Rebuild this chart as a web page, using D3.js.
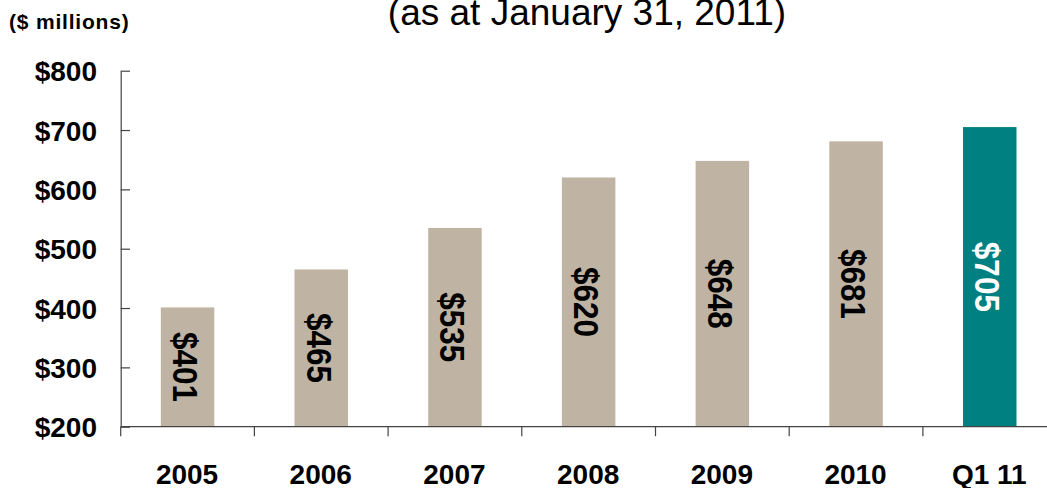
<!DOCTYPE html>
<html>
<head>
<meta charset="utf-8">
<script src="https://cdn.jsdelivr.net/npm/d3@7"></script>
<style>
  html, body { margin: 0; padding: 0; background: #fff; }
  svg { display: block; font-family: "Liberation Sans", Arial, sans-serif; }
</style>
</head>
<body>
<svg id="chart" width="1047" height="488"></svg>
<script>
// Assets under management by period ($ millions)
const categories = ["2005", "2006", "2007", "2008", "2009", "2010", "Q1 11"];
const values = [401, 465, 535, 620, 648, 681, 705];
const valueLabels = ["$401", "$465", "$535", "$620", "$648", "$681", "$705"];
const yTicks = [200, 300, 400, 500, 600, 700, 800];
const yTickLabels = ["$200", "$300", "$400", "$500", "$600", "$700", "$800"];

const svg = d3.select("#chart");
const W = 1047;

const axisColor = "#444";
const barColor = "#BFB4A4";
const highlightColor = "#008080";

// category slots: tick marks sit on the slot boundaries
const x = d3.scaleBand().domain(categories).range([120.7, 1056.6]).padding(0);
const y = d3.scaleLinear().domain([200, 800]).range([426.7, 70.7]);
const barFrac = 0.4;

// title and unit note
svg.append("text")
  .attr("x", 587).attr("y", 25)
  .attr("text-anchor", "middle")
  .attr("font-size", 37)
  .attr("fill", "#000")
  .text("(as at January 31, 2011)");

svg.append("text")
  .attr("x", 9).attr("y", 28.5)
  .attr("font-size", 21)
  .attr("font-weight", "bold")
  .attr("letter-spacing", 0.8)
  .attr("fill", "#000")
  .text("($ millions)");

// bars
svg.selectAll("rect.bar")
  .data(values)
  .join("rect")
  .attr("class", "bar")
  .attr("x", (d, i) => x(categories[i]) + x.bandwidth() * (1 - barFrac) / 2)
  .attr("width", x.bandwidth() * barFrac)
  .attr("y", d => y(d))
  .attr("height", d => y(200) - y(d))
  .attr("fill", (d, i) => i === values.length - 1 ? highlightColor : barColor);

// rotated value labels centred in each bar
svg.selectAll("text.val")
  .data(values)
  .join("text")
  .attr("class", "val")
  .attr("transform", (d, i) => {
    const cx = x(categories[i]) + x.bandwidth() / 2 - 2;
    const cy = (y(d) + y(200)) / 2;
    return `translate(${cx},${cy}) rotate(90) scale(1,1.12)`;
  })
  .attr("text-anchor", "middle")
  .attr("dy", "0.36em")
  .attr("font-size", 31.5)
  .attr("font-weight", "bold")
  .attr("fill", (d, i) => i === values.length - 1 ? "#fff" : "#000")
  .text((d, i) => valueLabels[i]);

// y axis
const yAxis = d3.axisLeft(y)
  .tickValues(yTicks)
  .tickFormat((d, i) => yTickLabels[i])
  .tickSizeInner(9.7)
  .tickSizeOuter(0)
  .tickPadding(14);
const gy = svg.append("g").attr("transform", "translate(120.7,0)").call(yAxis);
gy.select(".domain").attr("stroke", axisColor).attr("stroke-width", 1.2);
gy.selectAll(".tick line").attr("stroke", axisColor).attr("stroke-width", 1.2).attr("x2", 9.3);
gy.selectAll(".tick text")
  .attr("font-size", 28).attr("font-weight", "bold").attr("fill", "#000")
  .attr("font-family", "Liberation Sans, Arial, sans-serif")
  .attr("dy", "0.36em");

// x axis baseline and slot boundary ticks
svg.append("line")
  .attr("x1", 120.7).attr("x2", W)
  .attr("y1", y(200)).attr("y2", y(200))
  .attr("stroke", axisColor).attr("stroke-width", 1.2);

svg.selectAll("line.xtick")
  .data(categories)
  .join("line")
  .attr("class", "xtick")
  .attr("x1", d => x(d)).attr("x2", d => x(d))
  .attr("y1", y(200)).attr("y2", y(200) + 9.5)
  .attr("stroke", axisColor).attr("stroke-width", 1.2);

svg.selectAll("text.cat")
  .data(categories)
  .join("text")
  .attr("class", "cat")
  .attr("x", d => x(d) + x.bandwidth() / 2 - 0.5)
  .attr("y", 484)
  .attr("text-anchor", "middle")
  .attr("font-size", 28)
  .attr("font-weight", "bold")
  .attr("fill", "#000")
  .text(d => d);
</script>
</body>
</html>
